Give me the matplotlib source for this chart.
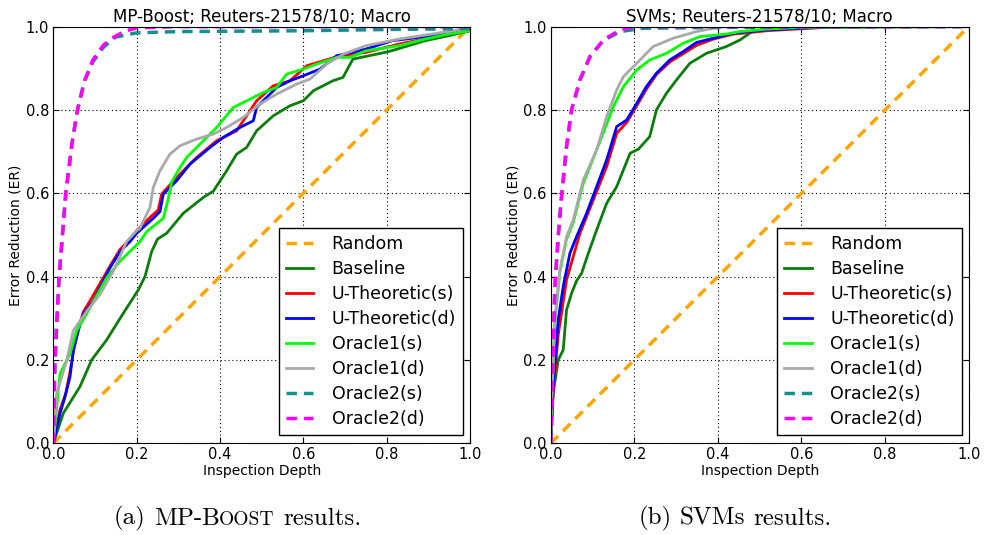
import matplotlib
matplotlib.use("Agg")
import matplotlib.pyplot as plt

# ---- data: (a) MP-Boost ----
boost_random_x = [0.0, 1.0]
boost_random_y = [0.0, 1.0]

boost_base_x = [0, 0.024, 0.064, 0.092, 0.128, 0.168, 0.204, 0.22, 0.236, 0.25, 0.272, 0.312, 0.36,
                0.384, 0.416, 0.44, 0.464, 0.488, 0.528, 0.568, 0.6, 0.624, 0.671, 0.695, 0.719, 0.805,
                0.892, 0.948, 1.0]
boost_base_y = [0, 0.072, 0.136, 0.2, 0.248, 0.312, 0.368, 0.4, 0.46, 0.49, 0.504, 0.552, 0.59,
                0.605, 0.654, 0.694, 0.71, 0.75, 0.786, 0.81, 0.822, 0.846, 0.87, 0.878, 0.922, 0.94,
                0.966, 0.978, 0.99]

boost_uts_x = [0, 0.016, 0.03, 0.04, 0.05, 0.06, 0.072, 0.09, 0.11, 0.136, 0.16, 0.184, 0.2, 0.235,
               0.252, 0.26, 0.296, 0.344, 0.392, 0.44, 0.472, 0.488, 0.528, 0.568, 0.608, 0.648, 0.688,
               0.75, 0.829, 0.908, 0.987, 1.0]
boost_uts_y = [0, 0.08, 0.12, 0.17, 0.23, 0.275, 0.315, 0.345, 0.38, 0.425, 0.465, 0.49, 0.51, 0.545,
               0.56, 0.598, 0.638, 0.686, 0.726, 0.75, 0.798, 0.822, 0.858, 0.87, 0.906, 0.918, 0.93,
               0.938, 0.958, 0.974, 0.99, 0.99]

boost_utd_x = [0, 0.016, 0.028, 0.04, 0.048, 0.06, 0.072, 0.096, 0.112, 0.136, 0.16, 0.184, 0.2, 0.24,
               0.256, 0.264, 0.296, 0.328, 0.376, 0.408, 0.448, 0.48, 0.488, 0.512, 0.536, 0.568, 0.6,
               0.64, 0.68, 0.75, 0.813, 0.908, 0.987, 1.0]
boost_utd_y = [0, 0.071, 0.111, 0.159, 0.222, 0.27, 0.31, 0.341, 0.373, 0.421, 0.46, 0.484, 0.504, 0.54,
               0.556, 0.598, 0.63, 0.67, 0.71, 0.734, 0.758, 0.774, 0.806, 0.83, 0.854, 0.87, 0.882,
               0.898, 0.93, 0.946, 0.966, 0.978, 0.99, 0.99]

boost_o1s_x = [0, 0.016, 0.04, 0.056, 0.088, 0.128, 0.16, 0.208, 0.224, 0.264, 0.276, 0.284, 0.304, 0.32,
               0.352, 0.392, 0.432, 0.472, 0.504, 0.536, 0.56, 0.6, 0.632, 0.68, 0.712, 0.75, 0.829,
               0.892, 0.948, 1.0]
boost_o1s_y = [0, 0.167, 0.214, 0.27, 0.325, 0.397, 0.437, 0.484, 0.508, 0.54, 0.587, 0.627, 0.662, 0.686,
               0.718, 0.758, 0.806, 0.826, 0.842, 0.854, 0.886, 0.898, 0.91, 0.926, 0.926, 0.942, 0.954,
               0.97, 0.982, 0.99]

boost_o1d_x = [0, 0.008, 0.032, 0.048, 0.08, 0.112, 0.144, 0.176, 0.2, 0.208, 0.232, 0.24, 0.256, 0.28,
               0.304, 0.344, 0.384, 0.416, 0.456, 0.496, 0.536, 0.584, 0.616, 0.656, 0.696, 0.75, 0.829,
               0.908, 0.987, 1.0]
boost_o1d_y = [0, 0.119, 0.198, 0.27, 0.317, 0.357, 0.413, 0.484, 0.51, 0.516, 0.566, 0.614, 0.654, 0.694,
               0.714, 0.73, 0.742, 0.758, 0.782, 0.814, 0.838, 0.862, 0.874, 0.91, 0.934, 0.954, 0.97,
               0.982, 0.994, 0.995]

boost_o2s_x = [0, 0.004, 0.014, 0.03, 0.045, 0.058, 0.075, 0.095, 0.12, 0.15, 0.2, 0.3, 0.6, 0.8, 1.0]
boost_o2s_y = [0, 0.2, 0.4, 0.6, 0.72, 0.8, 0.87, 0.915, 0.95, 0.975, 0.985, 0.988, 0.99, 0.993, 0.995]

boost_o2d_x = [0, 0.004, 0.014, 0.03, 0.045, 0.058, 0.075, 0.095, 0.12, 0.14, 0.17, 0.2, 0.3, 1.0]
boost_o2d_y = [0, 0.2, 0.4, 0.6, 0.72, 0.8, 0.87, 0.92, 0.955, 0.972, 0.988, 0.997, 1.0, 1.0]

# ---- (b) SVMs ----
svm_random_x = [0.0, 1.0]
svm_random_y = [0.0, 1.0]

svm_base_x = [0, 0.002, 0.006, 0.018, 0.03, 0.038, 0.05, 0.062, 0.074, 0.088, 0.11, 0.134, 0.158, 0.19,
              0.21, 0.237, 0.253, 0.277, 0.301, 0.333, 0.373, 0.42, 0.453, 0.485, 0.6, 1.0]
svm_base_y = [0, 0.056, 0.12, 0.2, 0.224, 0.32, 0.36, 0.39, 0.408, 0.45, 0.512, 0.576, 0.616, 0.696,
              0.706, 0.736, 0.8, 0.84, 0.872, 0.912, 0.936, 0.952, 0.968, 0.99, 0.998, 1.0]

svm_uts_x = [0, 0.006, 0.018, 0.038, 0.07, 0.102, 0.134, 0.158, 0.182, 0.206, 0.229, 0.253, 0.285, 0.317,
             0.349, 0.389, 0.437, 0.517, 0.6, 0.7, 1.0]
svm_uts_y = [0, 0.12, 0.26, 0.392, 0.504, 0.584, 0.664, 0.744, 0.77, 0.81, 0.85, 0.885, 0.915, 0.935,
             0.955, 0.97, 0.982, 0.99, 0.995, 1.0, 1.0]

svm_utd_x = [0, 0.006, 0.018, 0.03, 0.046, 0.062, 0.086, 0.11, 0.134, 0.158, 0.182, 0.206, 0.229, 0.253,
             0.285, 0.317, 0.349, 0.389, 0.437, 0.517, 0.6, 0.68, 1.0]
svm_utd_y = [0, 0.136, 0.296, 0.376, 0.456, 0.496, 0.552, 0.616, 0.68, 0.76, 0.776, 0.816, 0.856, 0.888,
             0.92, 0.94, 0.962, 0.972, 0.984, 0.992, 0.996, 1.0, 1.0]

svm_o1s_x = [0, 0.002, 0.01, 0.022, 0.038, 0.054, 0.078, 0.11, 0.15, 0.174, 0.206, 0.237, 0.277, 0.317,
             0.357, 0.42, 0.453, 0.517, 0.6, 0.8, 1.0]
svm_o1s_y = [0, 0.09, 0.29, 0.41, 0.49, 0.53, 0.624, 0.704, 0.808, 0.856, 0.896, 0.92, 0.936, 0.96,
             0.976, 0.982, 0.988, 0.994, 0.998, 1.0, 1.0]

svm_o1d_x = [0, 0.002, 0.01, 0.022, 0.038, 0.054, 0.078, 0.11, 0.134, 0.158, 0.174, 0.206, 0.245, 0.293,
             0.349, 0.389, 0.42, 1.0]
svm_o1d_y = [0, 0.096, 0.296, 0.416, 0.496, 0.536, 0.632, 0.704, 0.784, 0.848, 0.88, 0.912, 0.952, 0.972,
             0.988, 0.996, 1.0, 1.0]

svm_o2s_x = [0, 0.002, 0.006, 0.01, 0.018, 0.026, 0.038, 0.05, 0.07, 0.094, 0.126, 0.166, 0.22, 0.4, 1.0]
svm_o2s_y = [0, 0.056, 0.216, 0.376, 0.496, 0.592, 0.712, 0.8, 0.872, 0.928, 0.966, 0.988, 0.996, 0.998, 1.0]

svm_o2d_x = [0, 0.002, 0.006, 0.01, 0.018, 0.026, 0.038, 0.05, 0.07, 0.094, 0.126, 0.166, 0.2, 1.0]
svm_o2d_y = [0, 0.056, 0.216, 0.376, 0.496, 0.592, 0.712, 0.8, 0.872, 0.928, 0.968, 0.992, 1.0, 1.0]

labels = ["Random", "Baseline", "U-Theoretic(s)", "U-Theoretic(d)",
          "Oracle1(s)", "Oracle1(d)", "Oracle2(s)", "Oracle2(d)"]
colors = ["#FFA500", "#0A7D0A", "#FF0000", "#0000FF", "#00FF00", "#A9A9A9", "#139191", "#FF00FF"]
dashed = [True, False, False, False, False, False, True, True]

boost_series = [(boost_random_x, boost_random_y), (boost_base_x, boost_base_y),
                (boost_uts_x, boost_uts_y), (boost_utd_x, boost_utd_y),
                (boost_o1s_x, boost_o1s_y), (boost_o1d_x, boost_o1d_y),
                (boost_o2s_x, boost_o2s_y), (boost_o2d_x, boost_o2d_y)]
svm_series = [(svm_random_x, svm_random_y), (svm_base_x, svm_base_y),
              (svm_uts_x, svm_uts_y), (svm_utd_x, svm_utd_y),
              (svm_o1s_x, svm_o1s_y), (svm_o1d_x, svm_o1d_y),
              (svm_o2s_x, svm_o2s_y), (svm_o2d_x, svm_o2d_y)]

TITLE_SIZE = 12
LABEL_SIZE = 10
TICK_SIZE = 10.5
LEGEND_SIZE = 12.5
CAPTION_SIZE = 18

fig = plt.figure(figsize=(9.92, 5.35), dpi=100)
ax1 = fig.add_axes([0.0537, 0.1714, 0.4201, 0.7789])
ax2 = fig.add_axes([0.5551, 0.1714, 0.4214, 0.7789])


def draw_panel(ax, series, title):
    for (xs, ys), lab, col, dsh in zip(series, labels, colors, dashed):
        if dsh:
            ax.plot(xs, ys, color=col, lw=2.5, dashes=(3.0, 2.0), label=lab)
        else:
            ax.plot(xs, ys, color=col, lw=2.0, label=lab)
    ax.set_xlim(0, 1)
    ax.set_ylim(0, 1)
    ax.set_xticks([0, 0.2, 0.4, 0.6, 0.8, 1.0])
    ax.set_yticks([0, 0.2, 0.4, 0.6, 0.8, 1.0])
    ax.set_xticklabels(["0.0", "0.2", "0.4", "0.6", "0.8", "1.0"])
    ax.set_yticklabels(["0.0", "0.2", "0.4", "0.6", "0.8", "1.0"])
    ax.tick_params(direction="in", top=True, right=True, length=4, width=0.8,
                   labelsize=TICK_SIZE, pad=3)
    ax.grid(True, color="black", linestyle=(0, (1, 2.5)), linewidth=0.8)
    ax.set_title(title, fontsize=TITLE_SIZE, pad=3)
    ax.set_xlabel("Inspection Depth", fontsize=LABEL_SIZE, labelpad=1)
    ax.set_ylabel("Error Reduction (ER)", fontsize=LABEL_SIZE, labelpad=2)
    leg = ax.legend(loc="lower right", bbox_to_anchor=(0.983, 0.02), borderaxespad=0,
                    fontsize=LEGEND_SIZE, fancybox=False, framealpha=1, handlelength=1.6,
                    handletextpad=1.05, labelspacing=0.4, borderpad=0.4)
    leg.get_frame().set_edgecolor("black")
    leg.get_frame().set_linewidth(1.0)


draw_panel(ax1, boost_series, "MP-Boost; Reuters-21578/10; Macro")
draw_panel(ax2, svm_series, "SVMs; Reuters-21578/10; Macro")


def caption(fig, xc, yb, parts, size):
    # parts: (text, scale); text None means a word gap
    renderer = fig.canvas.get_renderer()
    figw = fig.get_figwidth() * fig.dpi
    items = []
    total = 0.0
    for s, sc in parts:
        if s is None:
            w = 0.33 * size * fig.dpi / 72.0
            items.append((None, w))
        else:
            t = fig.text(0, yb, s, fontsize=size * sc, family="cmr10", ha="left", va="baseline")
            w = t.get_window_extent(renderer).width
            items.append((t, w))
        total += w
    x = xc * figw - total / 2.0
    for t, w in items:
        if t is not None:
            t.set_x(x / figw)
        x += w


caption(fig, 0.2394, 0.019, [("(a)", 1), (None, 1), ("MP-B", 1), ("OOST", 0.78), (None, 1),
                             ("results.", 1)], CAPTION_SIZE)
caption(fig, 0.741, 0.019, [("(b)", 1), (None, 1), ("SVMs", 1), (None, 1), ("results.", 1)],
        CAPTION_SIZE)

fig.savefig("out.png", dpi=100)
